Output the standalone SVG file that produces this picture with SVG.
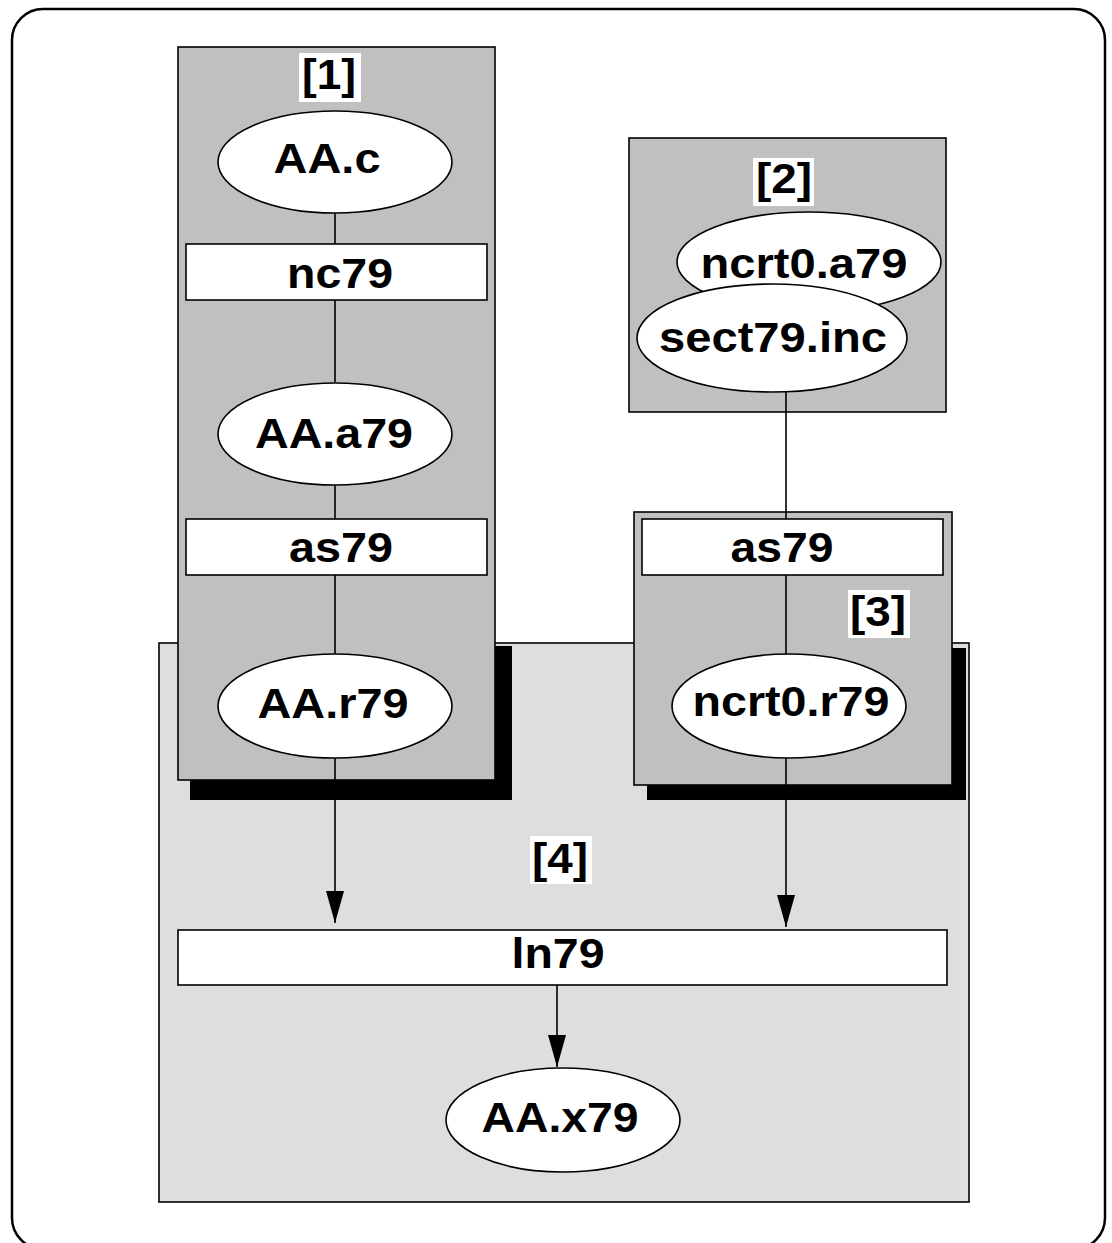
<svg xmlns="http://www.w3.org/2000/svg" width="1112" height="1243" viewBox="0 0 1112 1243">
  <style>
    .frame { fill: #ffffff; stroke: #000000; stroke-width: 2.5; }
    .cl { fill: #c0c0c0; stroke: #000000; stroke-width: 1.6; }
    .cl4 { fill: #dedede; stroke: #000000; stroke-width: 1.6; }
    .shadow { fill: #000000; }
    .node { fill: #ffffff; stroke: #000000; stroke-width: 1.6; }
    .lblbg { fill: #ffffff; }
    .edge { fill: none; stroke: #000000; stroke-width: 1.6; }
    text { font-family: "Liberation Sans", Arial, Helvetica, sans-serif; font-weight: bold; font-size: 43px; fill: #000000; text-anchor: middle; }
  </style>
  <defs>
    <marker id="arrow" markerUnits="userSpaceOnUse" markerWidth="32" markerHeight="18" refX="32" refY="9" orient="auto">
      <path d="M0,0 L32,9 L0,18 Z" fill="#000000"/>
    </marker>
  </defs>

  <!-- outer frame -->
  <rect class="frame" x="12" y="9" width="1093" height="1240" rx="31" ry="31"/>

  <!-- cluster 4 (background) -->
  <g id="cluster4">
    <rect class="cl4" x="159" y="643" width="810" height="559"/>
  </g>

  <!-- drop shadows of clusters 1 and 3 -->
  <rect class="shadow" x="190" y="646" width="322" height="154"/>
  <rect class="shadow" x="647" y="648" width="319" height="152"/>

  <!-- clusters 1, 2, 3 -->
  <g id="cluster1">
    <rect class="cl" x="178" y="47" width="317" height="733"/>
  </g>
  <g id="cluster2">
    <rect class="cl" x="629" y="138" width="317" height="274"/>
  </g>
  <g id="cluster3">
    <rect class="cl" x="634" y="512" width="318" height="273"/>
  </g>

  <!-- connectors -->
  <g id="connectors">
    <line class="edge" x1="335" y1="213" x2="335" y2="244"/>
    <line class="edge" x1="335" y1="300" x2="335" y2="382"/>
    <line class="edge" x1="335" y1="485" x2="335" y2="519"/>
    <line class="edge" x1="335" y1="575" x2="335" y2="654"/>
    <line class="edge" x1="335" y1="758" x2="335" y2="923" marker-end="url(#arrow)"/>
    <line class="edge" x1="786" y1="392" x2="786" y2="519"/>
    <line class="edge" x1="786" y1="575" x2="786" y2="654"/>
    <line class="edge" x1="786" y1="758" x2="786" y2="927" marker-end="url(#arrow)"/>
    <line class="edge" x1="557" y1="985" x2="557" y2="1067" marker-end="url(#arrow)"/>
  </g>

  <!-- cluster labels -->
  <g id="label1">
    <rect class="lblbg" x="299" y="53" width="62" height="49"/>
    <text x="329" y="89" textLength="54" lengthAdjust="spacingAndGlyphs">[1]</text>
  </g>
  <g id="label2">
    <rect class="lblbg" x="753" y="158" width="61" height="48"/>
    <text x="784" y="193" textLength="56" lengthAdjust="spacingAndGlyphs">[2]</text>
  </g>
  <g id="label3">
    <rect class="lblbg" x="848" y="590" width="62" height="48"/>
    <text x="878" y="626" textLength="56" lengthAdjust="spacingAndGlyphs">[3]</text>
  </g>
  <g id="label4">
    <rect class="lblbg" x="530" y="836" width="62" height="48"/>
    <text x="560" y="873" textLength="56" lengthAdjust="spacingAndGlyphs">[4]</text>
  </g>

  <!-- nodes -->
  <g id="AA.c">
    <ellipse class="node" cx="335" cy="162" rx="117" ry="51"/>
    <text x="327" y="173" textLength="107" lengthAdjust="spacingAndGlyphs">AA.c</text>
  </g>
  <g id="nc79">
    <rect class="node" x="186" y="244" width="301" height="56"/>
    <text x="340" y="288" textLength="106" lengthAdjust="spacingAndGlyphs">nc79</text>
  </g>
  <g id="AA.a79">
    <ellipse class="node" cx="335" cy="434" rx="117" ry="51"/>
    <text x="334" y="448" textLength="158" lengthAdjust="spacingAndGlyphs">AA.a79</text>
  </g>
  <g id="as79_1">
    <rect class="node" x="186" y="519" width="301" height="56"/>
    <text x="341" y="562" textLength="104" lengthAdjust="spacingAndGlyphs">as79</text>
  </g>
  <g id="AA.r79">
    <ellipse class="node" cx="335" cy="706" rx="117" ry="52"/>
    <text x="333" y="718" textLength="151" lengthAdjust="spacingAndGlyphs">AA.r79</text>
  </g>
  <g id="ncrt0.a79">
    <ellipse class="node" cx="809" cy="262" rx="132" ry="50"/>
    <text x="804" y="278" textLength="207" lengthAdjust="spacingAndGlyphs">ncrt0.a79</text>
  </g>
  <g id="sect79.inc">
    <ellipse class="node" cx="772" cy="338" rx="135" ry="54"/>
    <text x="773" y="352" textLength="228" lengthAdjust="spacingAndGlyphs">sect79.inc</text>
  </g>
  <g id="as79_3">
    <rect class="node" x="642" y="519" width="301" height="56"/>
    <text x="782" y="562" textLength="103" lengthAdjust="spacingAndGlyphs">as79</text>
  </g>
  <g id="ncrt0.r79">
    <ellipse class="node" cx="789" cy="706" rx="117" ry="52"/>
    <text x="791" y="716" textLength="197" lengthAdjust="spacingAndGlyphs">ncrt0.r79</text>
  </g>
  <g id="ln79">
    <rect class="node" x="178" y="930" width="769" height="55"/>
    <text x="558" y="968" textLength="93" lengthAdjust="spacingAndGlyphs">ln79</text>
  </g>
  <g id="AA.x79">
    <ellipse class="node" cx="563" cy="1120" rx="117" ry="52"/>
    <text x="560" y="1132" textLength="157" lengthAdjust="spacingAndGlyphs">AA.x79</text>
  </g>
</svg>
